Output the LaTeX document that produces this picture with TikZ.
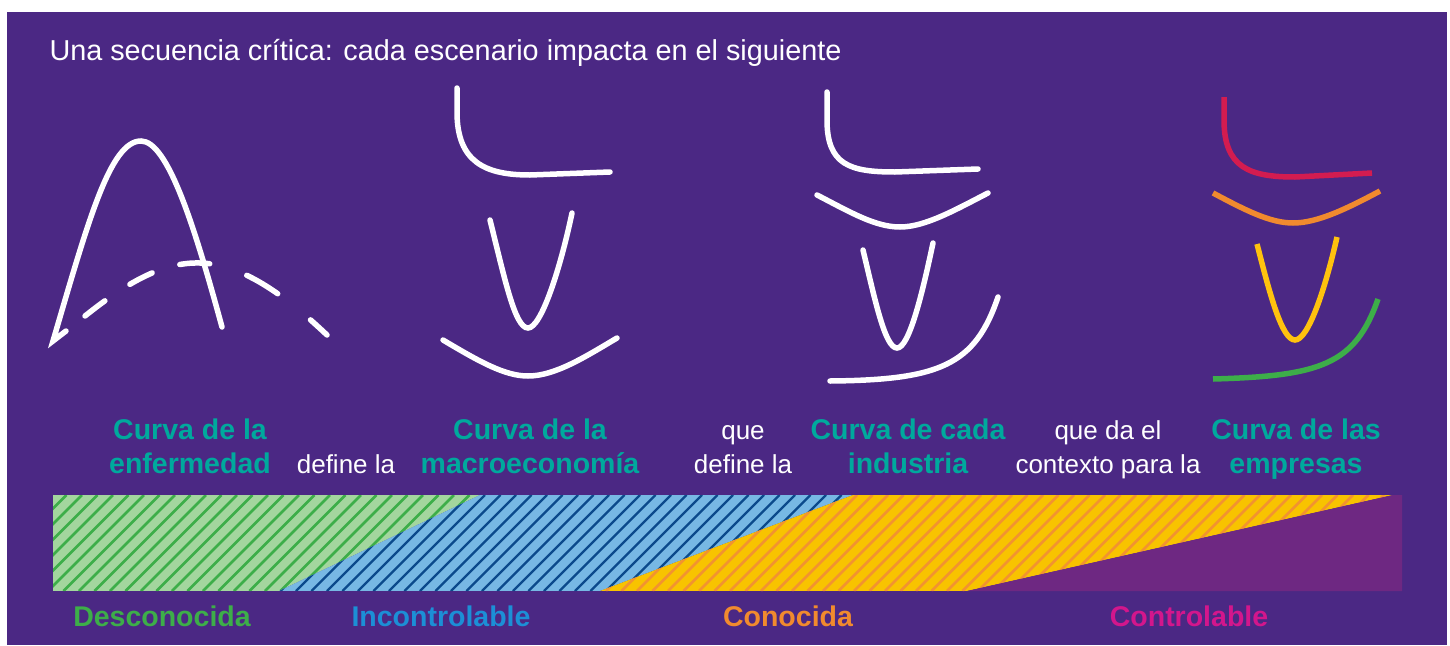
\documentclass[tikz,border=0pt]{standalone}
\usepackage{fontspec}
\setmainfont{Liberation Sans}
\usepackage{xcolor}
\usepackage{tikz}
\usetikzlibrary{calc}
\definecolor{bg}{HTML}{4B2884}
\definecolor{tealtx}{HTML}{00A99D}
\definecolor{gfill}{HTML}{A3D69E}
\definecolor{gline}{HTML}{3DAE49}
\definecolor{bfill}{HTML}{77B8E4}
\definecolor{bline}{HTML}{0B4A8C}
\definecolor{yfill}{HTML}{F8C300}
\definecolor{yline}{HTML}{F29330}
\definecolor{pfill}{HTML}{6E2882}
\definecolor{blutx}{HTML}{1C8FD6}
\definecolor{oratx}{HTML}{F18A2E}
\definecolor{magtx}{HTML}{D3168C}
\definecolor{crim}{HTML}{D31C50}
\definecolor{gold}{HTML}{FFC20E}
\tikzset{
  curve/.style={draw=white, line width=5.5pt, line cap=round},
  ccurve/.style={line width=5.5pt},
  lab/.style={text=tealtx, font=\fontsize{28.5}{34}\bfseries, align=center, anchor=base},
  conn/.style={text=white, font=\fontsize{26}{34}\selectfont, align=center, anchor=base},
  cat/.style={font=\fontsize{28.5}{34}\bfseries, anchor=base},
  title/.style={text=white, font=\fontsize{28.8}{34}\selectfont, anchor=base west}
}

\begin{document}
\begin{tikzpicture}[x=1pt,y=-1pt]
  \useasboundingbox (0,0) rectangle (1450,645);
  \fill[white] (0,0) rectangle (1450,645);
  \fill[bg] (7,12) rectangle (1447,645);

  \node[title] (ttl) at (46,60) {Una secuencia crítica: cada escenario impacta en el siguiente};

  % enfermedad
  \draw[curve] (66,331) -- (53,341) .. controls (88,222) and (110,141) .. (141,141)
    .. controls (168,141) and (195,228) .. (222,327);
  \draw[curve, dash pattern=on 25pt off 30pt on 25pt off 29pt on 30pt off 39pt on 36pt off 42pt on 30pt off 30pt]
    (85,316) .. controls (130,280) and (165,262) .. (200,263)
    .. controls (245,264) and (290,300) .. (327,335);

  % macroeconomia
  \draw[curve] (457,88) -- (457,112) .. controls (457,162) and (485,175) .. (530,175) -- (610,172);
  \draw[curve] (490,220) .. controls (505,280) and (515,328) .. (528,328)
    .. controls (541,328) and (560,270) .. (572,213);
  \draw[curve] (443,340) .. controls (480,362) and (505,376) .. (528,376)
    .. controls (555,376) and (585,357) .. (617,338);

  % industria
  \draw[curve] (827,92) -- (827,120) .. controls (827,165) and (850,172) .. (895,172) -- (978,169);
  \draw[curve] (817,195) .. controls (850,212) and (875,227) .. (900,227)
    .. controls (925,227) and (955,210) .. (988,193);
  \draw[curve] (863,250) .. controls (875,300) and (885,348) .. (897,348)
    .. controls (909,348) and (922,295) .. (933,243);
  \draw[curve] (830,381) .. controls (940,380) and (975,365) .. (998,297);

  % empresas
  \draw[ccurve, crim] (1224,97) -- (1224,120) .. controls (1224,168) and (1250,177) .. (1295,177) -- (1372,173);
  \draw[ccurve, oratx] (1213,193) .. controls (1245,210) and (1270,223) .. (1293,223)
    .. controls (1318,223) and (1348,208) .. (1380,191);
  \draw[ccurve, gold] (1257,244) .. controls (1270,295) and (1282,340) .. (1295,340)
    .. controls (1308,340) and (1325,290) .. (1337,237);
  \draw[ccurve, gline] (1213,379) .. controls (1320,376) and (1355,365) .. (1378,299);

  % textos
  \node[lab] (enf) at (190,473) {Curva de la\\enfermedad};
  \node[conn] (def1) at (346,473) {define la};
  \node[lab] (mac) at (530,473) {Curva de la\\macroeconomía};
  \node[conn] (def2) at (743,473) {que\\define la};
  \node[lab] (ind) at (908,473) {Curva de cada\\industria};
  \node[conn] (ctx) at (1108,473) {que da el\\contexto para la};
  \node[lab] (emp) at (1296,473) {Curva de las\\empresas};

  % barra
  \begin{scope}
    \clip (53,495) -- (480,495) -- (279,591) -- (53,591) -- cycle;
    \fill[gfill] (53,495) rectangle (480,591);
    \foreach \k in {0,...,40}
      \draw[gline, line width=2.6pt] ({\k*15.5-45},591) -- ++(96,-96);
  \end{scope}
  \begin{scope}
    \clip (279,591) -- (480,495) -- (853,495) -- (600,591) -- cycle;
    \fill[bfill] (279,495) rectangle (853,591);
    \foreach \k in {10,...,60}
      \draw[bline, line width=2.4pt] ({\k*15.5-45},591) -- ++(96,-96);
  \end{scope}
  \begin{scope}
    \clip (600,591) -- (853,495) -- (1393,495) -- (967,591) -- cycle;
    \fill[yfill] (600,495) rectangle (1393,591);
    \foreach \k in {30,...,95}
      \draw[yline, line width=2.6pt] ({\k*15.5-45},591) -- ++(96,-96);
  \end{scope}
  \fill[pfill] (967,591) -- (1393,495) -- (1402,495) -- (1402,591) -- cycle;

  \node[cat, text=gline] (desc) at (162,626) {Desconocida};
  \node[cat, text=blutx] (inc) at (441,626) {Incontrolable};
  \node[cat, text=oratx] (con) at (788,626) {Conocida};
  \node[cat, text=magtx] (ctr) at (1189,626) {Controlable};
\end{tikzpicture}
\end{document}
